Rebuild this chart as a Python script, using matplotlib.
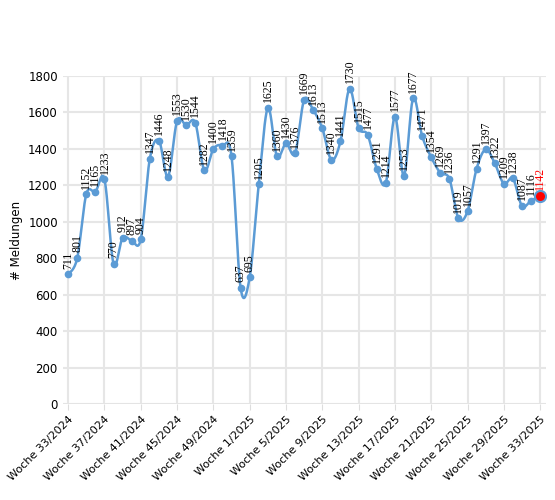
import matplotlib
matplotlib.use("Agg")
import matplotlib.pyplot as plt
import numpy as np

values = [711, 801, 1152, 1165, 1233, 770, 912, 897, 904, 1347, 1446, 1248, 1553, 1530, 1544,
          1282, 1400, 1418, 1359, 637, 695, 1205, 1625, 1360, 1430, 1376, 1669, 1613, 1513,
          1340, 1441, 1730, 1515, 1477, 1291, 1214, 1577, 1253, 1677, 1471, 1354, 1269, 1236,
          1019, 1057, 1291, 1397, 1322, 1209, 1238, 1087, 1116, 1142]
tick_labels = ["Woche 33/2024", "Woche 37/2024", "Woche 41/2024", "Woche 45/2024",
               "Woche 49/2024", "Woche 1/2025", "Woche 5/2025", "Woche 9/2025",
               "Woche 13/2025", "Woche 17/2025", "Woche 21/2025", "Woche 25/2025",
               "Woche 29/2025", "Woche 33/2025"]

x = np.arange(len(values))
y = np.array(values, float)

# Catmull-Rom smoothing
xs, ys = [], []
P = np.column_stack([x, y])
Pp = np.vstack([P[0], P, P[-1]])
for i in range(1, len(Pp) - 2):
    p0, p1, p2, p3 = Pp[i-1], Pp[i], Pp[i+1], Pp[i+2]
    for t in np.linspace(0, 1, 20, endpoint=False):
        t2, t3 = t*t, t*t*t
        pt = 0.5*((2*p1) + (-p0+p2)*t + (2*p0-5*p1+4*p2-p3)*t2 + (-p0+3*p1-3*p2+p3)*t3)
        xs.append(pt[0]); ys.append(pt[1])
xs.append(P[-1, 0]); ys.append(P[-1, 1])

fig = plt.figure(figsize=(5.55, 5.0), dpi=100)
ax = fig.add_axes([0.113, 0.192, 0.87, 0.656])
color = "#5b9bd5"
ax.plot(xs, ys, color=color, lw=1.8, zorder=3)
ax.plot(x[:-1], y[:-1], "o", color=color, ms=4.5, zorder=4)
ax.plot(x[-1], y[-1], "o", color="red", ms=8, mec=color, mew=1.5, zorder=5)

for i, v in enumerate(values):
    ax.annotate(str(v), (x[i], y[i]), xytext=(0, 4), textcoords="offset points",
                rotation=90, ha="center", va="bottom", fontsize=8.5,
                family="Liberation Serif", color="red" if i == len(values)-1 else "black")

ax.set_ylim(0, 1800)
ax.set_yticks(range(0, 1801, 200))
ax.set_xlim(-0.6, len(values) - 0.4)
ax.set_xticks(x[::4])
ax.set_xticklabels(tick_labels, rotation=45, ha="right", rotation_mode="anchor", fontsize=8)
ax.tick_params(axis="y", labelsize=8.5, length=0)
ax.tick_params(axis="x", length=4, color="#dddddd")
ax.grid(True, color="#e6e6e6", lw=1.5)
ax.set_axisbelow(True)
for s in ax.spines.values():
    s.set_visible(False)
ax.axhline(0, color="#dddddd", lw=1)
ax.set_ylabel("# Meldungen", fontsize=8.5)
fig.savefig("out.png", dpi=100)
